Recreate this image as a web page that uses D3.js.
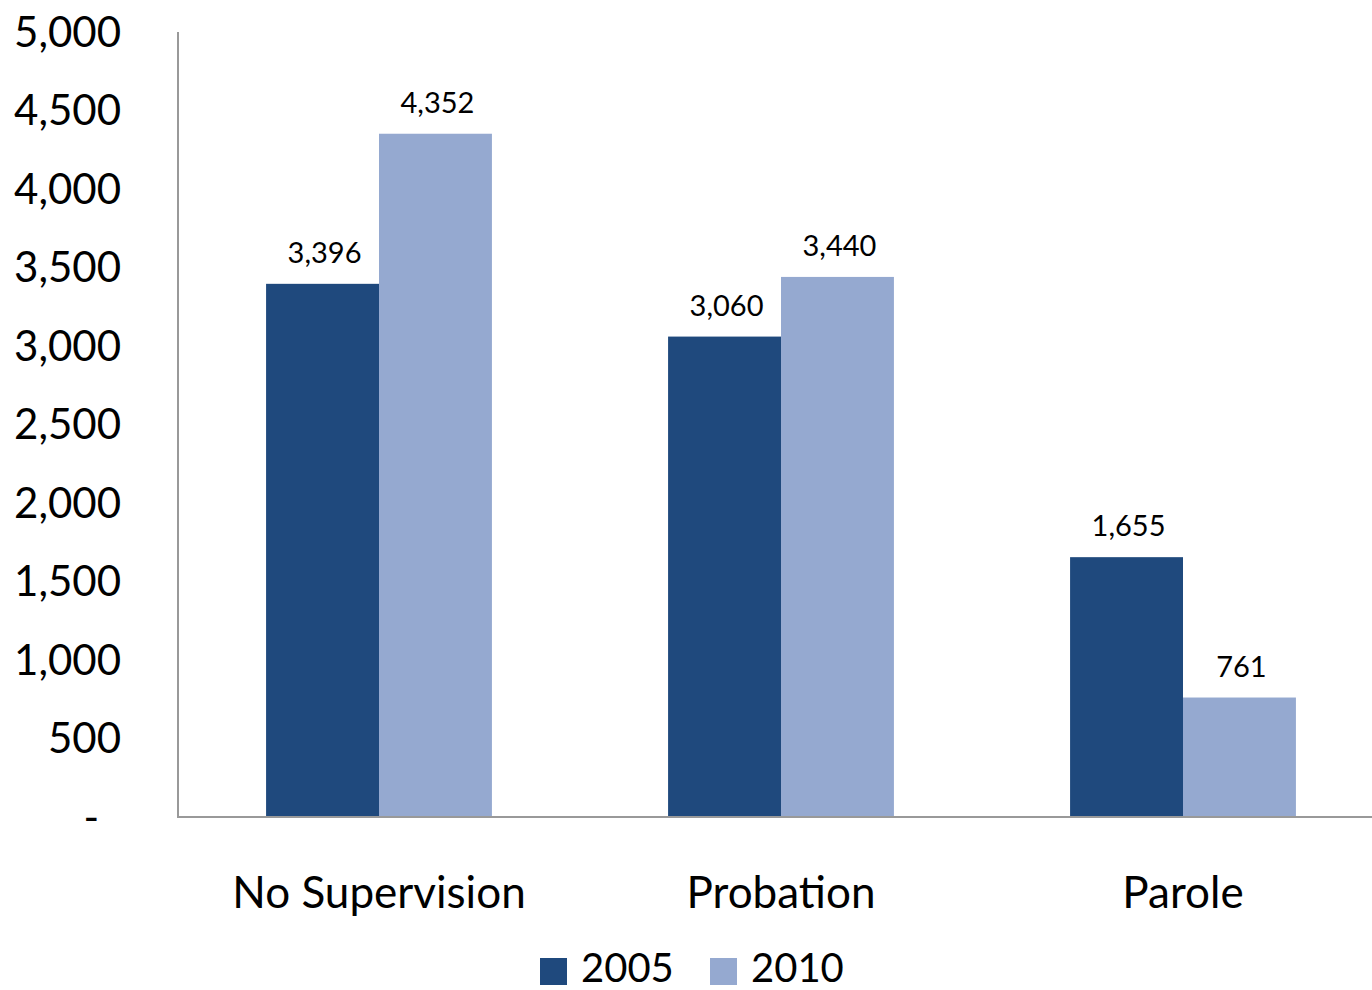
<!DOCTYPE html>
<html><head><meta charset="utf-8">
<script src="https://cdn.jsdelivr.net/npm/d3@7"></script>
<style>body{margin:0;background:#fff}svg{display:block}text{font-family:Lato,"Open Sans",sans-serif;fill:#000}</style>
</head><body><svg id="c" width="1372" height="990"></svg>
<script>
const categories = ["No Supervision", "Probation", "Parole"];
const series = ["2005", "2010"];
const values2005 = [3396, 3060, 1655];
const values2010 = [4352, 3440, 761];
const yTicks = [0, 500, 1000, 1500, 2000, 2500, 3000, 3500, 4000, 4500, 5000];
const colors = ["#1F497D", "#95A9D0"];

const svg = d3.select("#c");
const y = d3.scaleLinear().domain([0, 5000]).range([817, 32]);
const x0 = d3.scaleBand().domain(categories).range([178, 1384]).padding(0);
const x1 = d3.scaleBand().domain(series).range([0, x0.bandwidth()]).paddingInner(0).paddingOuter(0.78);
const data = categories.map((c, i) => ({c, vals: [values2005[i], values2010[i]]}));
const fmt = d3.format(",");

// y tick labels
svg.append("g").selectAll("text").data(yTicks).join("text")
  .attr("x", d => d === 0 ? 99 : 121).attr("y", y).attr("dy", "0.35em")
  .attr("text-anchor", "end").style("font-size", "42px")
  .text(d => d === 0 ? "-" : fmt(d));

// bars
const g = svg.append("g").selectAll("g").data(data).join("g")
  .attr("transform", d => `translate(${x0(d.c)},0)`);
g.selectAll("rect").data(d => d.vals.map((v, j) => ({s: series[j], v, j}))).join("rect")
  .attr("x", d => x1(d.s)).attr("width", x1.bandwidth())
  .attr("y", d => y(d.v)).attr("height", d => y(0) - y(d.v))
  .attr("fill", d => colors[d.j]);
g.selectAll("text").data(d => d.vals.map((v, j) => ({s: series[j], v, j}))).join("text")
  .attr("x", d => x1(d.s) + x1.bandwidth() / 2 + 2).attr("y", d => y(d.v) - 21)
  .attr("text-anchor", "middle").style("font-size", "29px")
  .text(d => fmt(d.v));

// axes lines
svg.append("line").attr("x1", 178).attr("x2", 178).attr("y1", y(5000)).attr("y2", y(0))
  .attr("stroke", "#999").attr("stroke-width", 2);
svg.append("line").attr("x1", 177).attr("x2", 1372).attr("y1", y(0)).attr("y2", y(0))
  .attr("stroke", "#999").attr("stroke-width", 2);

// category labels
svg.append("g").selectAll("text").data(categories).join("text")
  .attr("x", d => x0(d) + x0.bandwidth() / 2).attr("y", 908)
  .attr("text-anchor", "middle").style("font-size", "44px").text(d => d);

// legend
const legX = [540, 710];
const lg = svg.append("g").selectAll("g").data(series).join("g")
  .attr("transform", (d, i) => `translate(${legX[i]},958)`);
lg.append("rect").attr("width", 27).attr("height", 27).attr("fill", (d, i) => colors[i]);
lg.append("text").attr("x", 41).attr("y", 24).style("font-size", "40px").text(d => d);
</script></body></html>
